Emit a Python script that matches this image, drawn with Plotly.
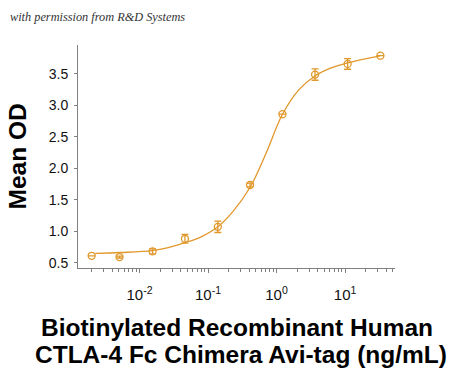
import plotly.graph_objects as go

# Data points (concentration ng/mL, mean OD, error)
conc = [0.0020, 0.0051, 0.0155, 0.046, 0.139, 0.41, 1.22, 3.65, 10.9, 32.8]
od = [0.61, 0.59, 0.68, 0.88, 1.07, 1.735, 2.86, 3.49, 3.66, 3.79]
od_err = [0.0, 0.015, 0.04, 0.07, 0.09, 0.03, 0.0, 0.09, 0.085, 0.0]

# Fitted curve
curve_x = [0.00226, 0.00524, 0.0153, 0.0263, 0.0449, 0.0767, 0.136, 0.232, 0.411,
           0.703, 1.20, 2.11, 3.64, 6.26, 10.9, 32.4]
curve_y = [0.649, 0.662, 0.691, 0.739, 0.815, 0.904, 1.063, 1.317, 1.699,
           2.239, 2.843, 3.246, 3.468, 3.595, 3.675, 3.786]

x_tickvals = [0.01, 0.1, 1, 10]
x_ticktext = ["10<sup>-2</sup>", "10<sup>-1</sup>", "10<sup>0</sup>", "10<sup>1</sup>"]
y_tickvals = [0.5, 1.0, 1.5, 2.0, 2.5, 3.0, 3.5]

ORANGE = "#E1982B"
AXIS = "#808080"
FONT = "Liberation Sans, Arial, sans-serif"

fig = go.Figure()
fig.add_trace(go.Scatter(
    x=curve_x, y=curve_y, mode="lines",
    line=dict(color=ORANGE, width=1.3, shape="spline", smoothing=1.0),
    hoverinfo="skip", showlegend=False))
fig.add_trace(go.Scatter(
    x=conc, y=od, mode="markers",
    marker=dict(symbol="circle-open", size=7, color=ORANGE, line=dict(width=1.3, color=ORANGE)),
    error_y=dict(type="data", array=od_err, visible=True, color=ORANGE, thickness=1.3, width=3.5),
    showlegend=False))

W, H = 450, 371
L, R, T, B = 78, 55, 45, 103

fig.update_layout(
    template="none",
    width=W, height=H,
    margin=dict(l=L, r=R, t=T, b=B, pad=0),
    paper_bgcolor="white", plot_bgcolor="white",
    font=dict(family=FONT, color="#111111"),
    showlegend=False,
)
fig.update_xaxes(
    type="log", range=[-2.898, 1.729], automargin=False,
    tickmode="array", tickvals=x_tickvals, ticktext=x_ticktext,
    ticks="outside", ticklen=4, tickwidth=1, tickcolor=AXIS,
    minor=dict(ticks="outside", ticklen=2.5, tickwidth=1, tickcolor=AXIS, dtick="D1", showgrid=False),
    showline=True, linecolor=AXIS, linewidth=1, showgrid=False, zeroline=False,
    tickfont=dict(family=FONT, size=15, color="#111111"),
    ticklabelstandoff=9,
)
fig.update_yaxes(
    range=[0.416, 3.96], automargin=False,
    tickmode="array", tickvals=y_tickvals, ticktext=[f"{v:.1f}" for v in y_tickvals],
    ticks="outside", ticklen=3, tickwidth=1, tickcolor=AXIS,
    showline=True, linecolor=AXIS, linewidth=1, showgrid=False, zeroline=False,
    tickfont=dict(family=FONT, size=14, color="#111111"),
    ticklabelstandoff=3,
)

pw = W - L - R
ph = H - T - B
def px(x):
    return (x - L) / pw
def py(y):
    return (H - B - y) / ph

fig.add_annotation(text="Mean OD", xref="paper", yref="paper", x=px(16.5), y=py(157),
                   xanchor="center", yanchor="middle", textangle=-90, showarrow=False,
                   font=dict(family=FONT, size=24.5, color="#000000", weight="bold"))
fig.add_annotation(text="Biotinylated Recombinant Human", xref="paper", yref="paper",
                   x=px(237), y=py(327), xanchor="center", yanchor="middle", showarrow=False,
                   font=dict(family=FONT, size=24.5, color="#000000", weight="bold"))
fig.add_annotation(text="CTLA-4 Fc Chimera Avi-tag (ng/mL)", xref="paper", yref="paper",
                   x=px(241), y=py(354), xanchor="center", yanchor="middle", showarrow=False,
                   font=dict(family=FONT, size=24.5, color="#000000", weight="bold"))
fig.add_annotation(text="with permission from R&D Systems", xref="paper", yref="paper",
                   x=px(8), y=py(17), xanchor="left", yanchor="middle", showarrow=False,
                   font=dict(family="Liberation Serif, serif", size=12.3, color="#333333", style="italic"))

fig.write_html("out.html", config={"displayModeBar": False},
               post_script="document.body.style.margin='0';document.body.style.overflow='hidden';")
